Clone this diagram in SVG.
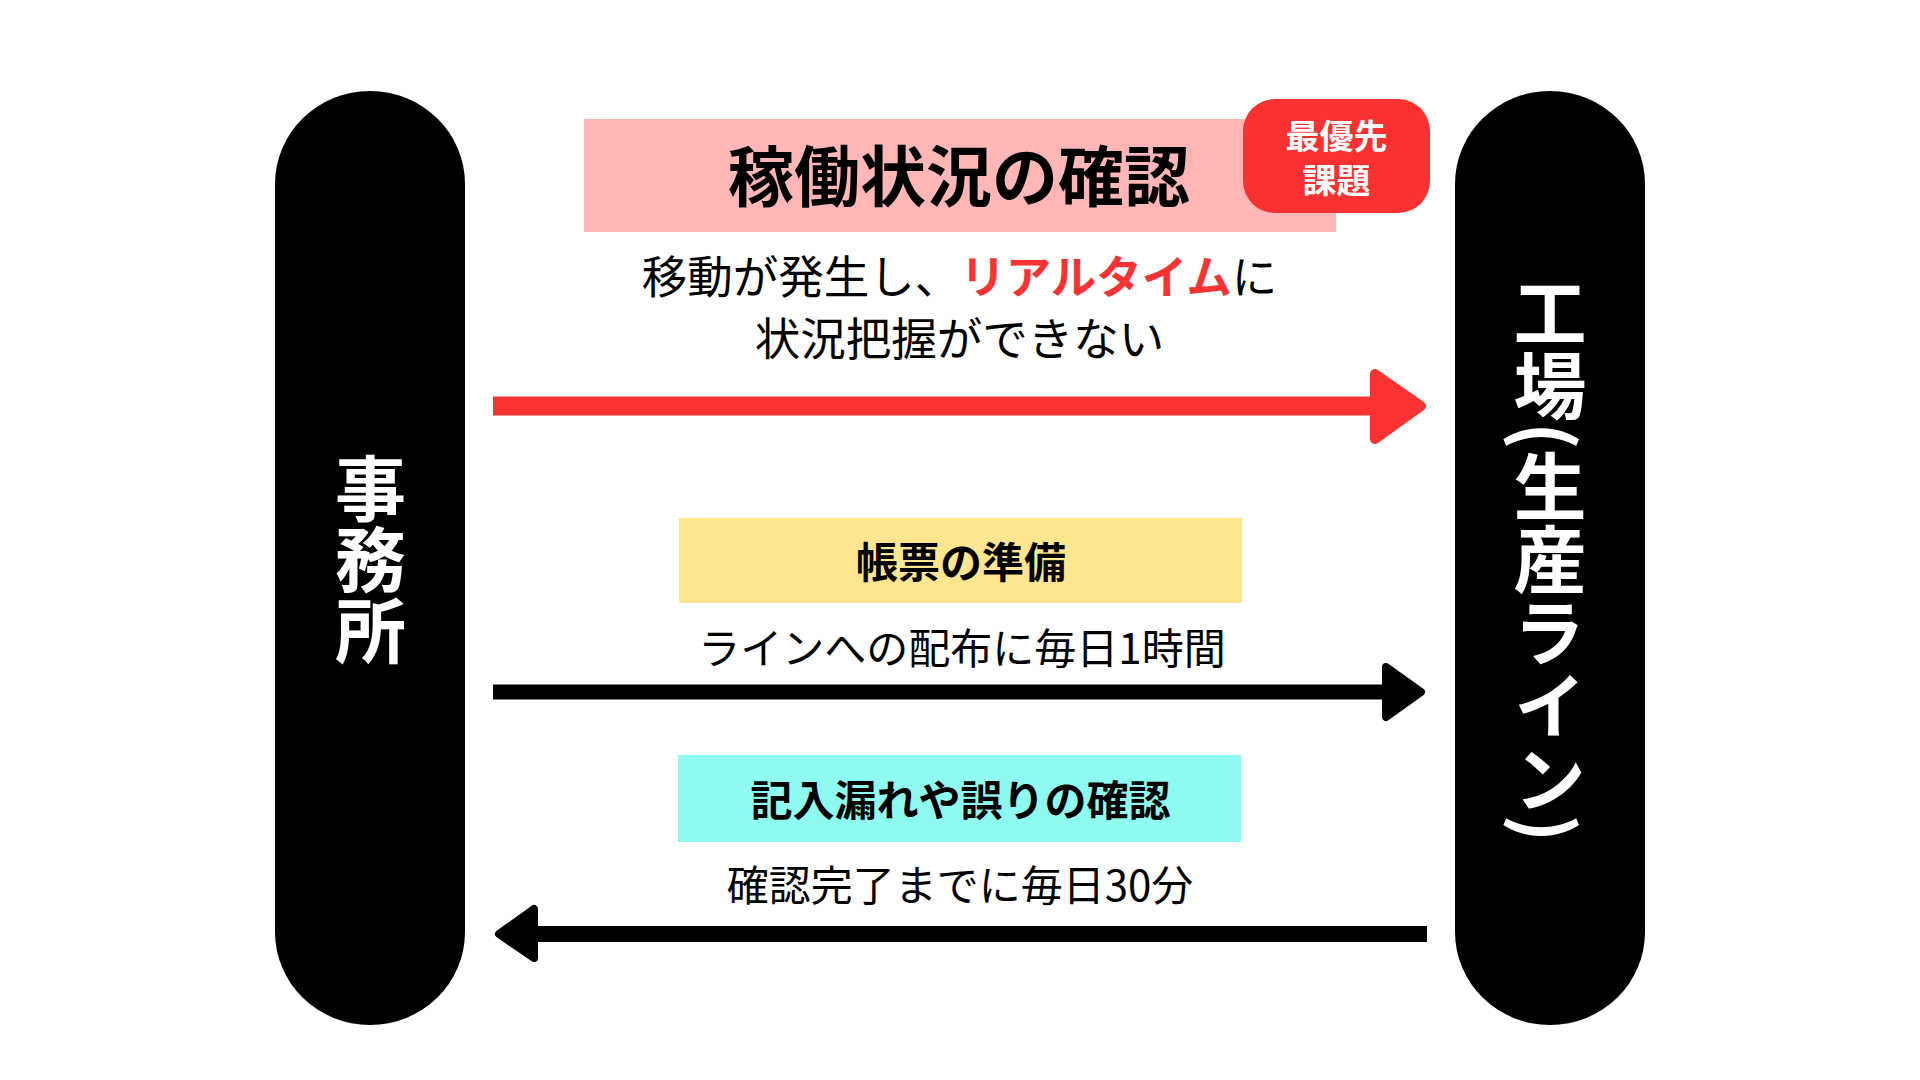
<svg xmlns="http://www.w3.org/2000/svg" width="1920" height="1080" viewBox="0 0 1920 1080">
  <style>
    text { font-family: "Noto Sans CJK JP", "Noto Sans", sans-serif; }
    .pill { fill: #000000; }
    .vt { fill: #ffffff; font-weight: 700; writing-mode: vertical-rl; text-anchor: middle; }
    .title { font-weight: 700; font-size: 66px; fill: #000000; text-anchor: middle; }
    .badge { font-weight: 700; font-size: 34px; fill: #ffffff; text-anchor: middle; }
    .sub { font-weight: 400; font-size: 45.5px; fill: #000000; text-anchor: middle; }
    .lbl { font-weight: 700; font-size: 42px; fill: #000000; text-anchor: middle; }
    .note { font-weight: 400; font-size: 42px; fill: #000000; text-anchor: middle; }
    .red { fill: #F93333; }
    .head { stroke-linejoin: round; }
  </style>
  <rect width="1920" height="1080" fill="#ffffff"/>

  <g id="office">
    <rect class="pill" x="275" y="91" width="190" height="934" rx="95" ry="93"/>
    <text class="vt" x="370.5" y="559" font-size="71">事務所</text>
  </g>

  <g id="factory">
    <rect class="pill" x="1455" y="91" width="190" height="934" rx="95" ry="93"/>
    <text class="vt" x="1550" y="559" font-size="73">工場(生産ライン)</text>
  </g>

  <g id="operation-status">
    <rect x="584" y="119" width="752" height="113" fill="#FFB6B6"/>
    <text class="title" x="959" y="201">稼働状況の確認</text>
    <text class="sub" x="959.5" y="293.5">移動が発生し、<tspan class="red" font-weight="700">リアルタイム</tspan>に</text>
    <text class="sub" x="959.5" y="355.5">状況把握ができない</text>
  </g>

  <g id="priority-badge">
    <rect x="1243" y="99" width="187" height="114" rx="32" ry="32" fill="#F93131"/>
    <text class="badge" x="1336.5" y="149">最優先</text>
    <text class="badge" x="1336.5" y="193">課題</text>
  </g>

  <g id="form-prep">
    <rect x="679" y="518" width="563" height="85" fill="#FDE68F"/>
    <text class="lbl" x="961" y="578">帳票の準備</text>
    <text class="note" x="962" y="664">ラインへの配布に毎日1時間</text>
  </g>

  <g id="error-check">
    <rect x="678" y="755" width="563" height="87" fill="#8FFBF0"/>
    <text class="lbl" x="960.5" y="816">記入漏れや誤りの確認</text>
    <text class="note" x="960" y="901">確認完了までに毎日30分</text>
  </g>

  <g id="connectors">
    <rect x="493" y="396.5" width="884" height="19" fill="#F93333"/>
    <polygon class="head" points="1375,374 1421,406 1375,439" fill="#F93333" stroke="#F93333" stroke-width="10"/>

    <rect x="493" y="684.5" width="896" height="15" fill="#000000"/>
    <polygon class="head" points="1386,667 1421,692 1386,717" fill="#000000" stroke="#000000" stroke-width="8"/>

    <rect x="531" y="926" width="896" height="16" fill="#000000"/>
    <polygon class="head" points="499,934 534,909 534,958" fill="#000000" stroke="#000000" stroke-width="8"/>
  </g>
</svg>
